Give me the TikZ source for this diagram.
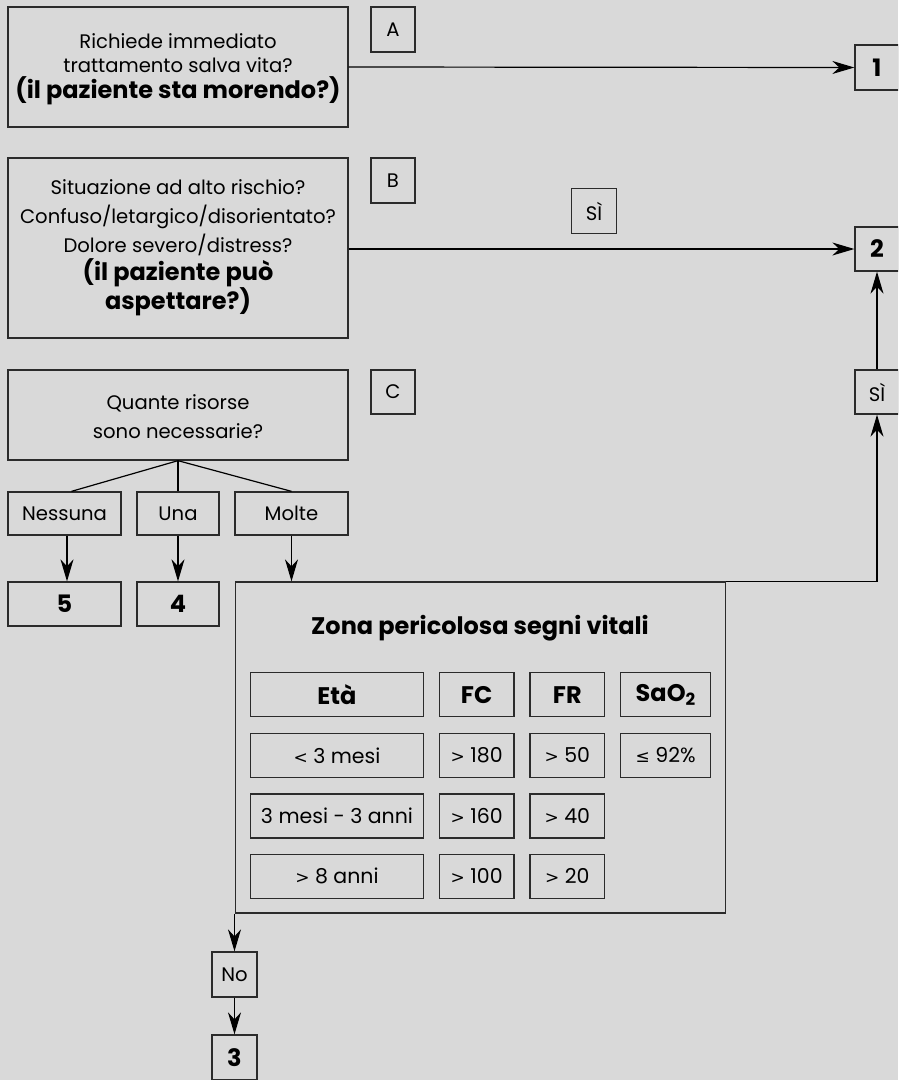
\documentclass[tikz,border=0pt]{standalone}
\usepackage{fontspec}
\setmainfont{Poppins}
\newfontfamily\dejavu{DejaVu Sans}
\usetikzlibrary{arrows.meta}
\definecolor{bgc}{HTML}{D9D9D9}
\definecolor{lc}{HTML}{2B2B2B}
\newcommand\bigb[1]{{\fontsize{24}{24.5}\selectfont\bfseries #1}}
\newcommand\bigbb[1]{{\fontsize{24}{28.7}\selectfont\bfseries #1}}
\newcommand\rel[1]{{\dejavu\fontsize{17}{17}\selectfont #1}}
\begin{document}
\lineskiplimit=-30pt
\begin{tikzpicture}[x=1pt,y=-1pt,
  box/.style={draw=lc, line width=1.3pt, rectangle, inner sep=0pt, align=center,
    font=\fontsize{19.6}{24.5}\selectfont},
  arr/.style={draw=black, line width=1.2pt, -{Stealth[length=22pt,width=13pt,inset=7pt]}},
  plain/.style={draw=black, line width=1.2pt},
  bb/.style={font=\fontsize{24}{24}\selectfont\bfseries},
  tb/.style={font=\fontsize{20.5}{24}\selectfont}
]
\useasboundingbox (0,0) rectangle (898,1080);
\fill[bgc] (0,0) rectangle (898,1080);
\clip (0,0) rectangle (898,1080);

% row A
\node[box, minimum width=340, minimum height=120] (A) at (178,67)
  {\rule{0pt}{19pt}Richiede immediato\\trattamento salva vita?\\[1pt]\bigb{(il paziente sta morendo?)}};
\node[box, minimum width=44, minimum height=45] (labA) at (393,29.5) {A};
\node[box, minimum width=44, minimum height=45, bb] (n1) at (877,67.5) {1};

% row B
\node[box, minimum width=340, minimum height=180, font=\fontsize{19.6}{28.7}\selectfont] (B) at (178,248)
  {Situazione ad alto rischio?\\Confuso/letargico/disorientato?\\Dolore severo/distress?\\\bigbb{(il paziente può}\\\bigbb{aspettare?)}};
\node[box, minimum width=44, minimum height=45] (labB) at (393,180.5) {B};
\node[box, minimum width=45, minimum height=45] (si1) at (594,211) {SÌ};
\node[box, minimum width=44, minimum height=44, bb] (n2) at (877,249) {2};

% row C
\node[box, minimum width=340, minimum height=90, font=\fontsize{19.6}{29}\selectfont] (C) at (178,415)
  {\rule{0pt}{19pt}Quante risorse\\sono necessarie?};
\node[box, minimum width=44, minimum height=44] (labC) at (393,392) {C};
\node[box, minimum width=44, minimum height=44] (si2) at (877,392) {SÌ};

\node[box, minimum width=113, minimum height=43] (nes) at (64.5,513.5) {Nessuna};
\node[box, minimum width=82, minimum height=43] (una) at (178,513.5) {Una};
\node[box, minimum width=113, minimum height=43] (mol) at (291.5,513.5) {Molte};

\node[box, minimum width=113, minimum height=44, bb] (n5) at (64.5,604) {5};
\node[box, minimum width=82, minimum height=44, bb] (n4) at (178,604) {4};

% big vital signs box
\node[box, minimum width=490, minimum height=331] (big) at (480.5,747.5) {};
\node[bb, inner sep=0pt] (title) at (480,628) {Zona pericolosa segni vitali};

\node[box, minimum width=172.6, minimum height=44, bb] (h1) at (337,694.7) {Età};
\node[box, minimum width=74.7, minimum height=44, bb] (h2) at (476.7,694.7) {FC};
\node[box, minimum width=74.7, minimum height=44, bb] (h3) at (567.3,694.7) {FR};
\node[box, minimum width=90, minimum height=44, bb] (h4) at (665.7,694.7) {SaO\textsubscript{2}};

\node[box, minimum width=172.6, minimum height=44, tb] (r1a) at (337,755.3) {\rel{<} 3 mesi};
\node[box, minimum width=74.7, minimum height=44, tb] (r1b) at (476.7,755.3) {\rel{>} 180};
\node[box, minimum width=74.7, minimum height=44, tb] (r1c) at (567.3,755.3) {\rel{>} 50};
\node[box, minimum width=90, minimum height=44, tb] (r1d) at (665.7,755.3) {\rel{≤} 92\%};

\node[box, minimum width=172.6, minimum height=44, tb] (r2a) at (337,816) {3 mesi - 3 anni};
\node[box, minimum width=74.7, minimum height=44, tb] (r2b) at (476.7,816) {\rel{>} 160};
\node[box, minimum width=74.7, minimum height=44, tb] (r2c) at (567.3,816) {\rel{>} 40};

\node[box, minimum width=172.6, minimum height=44, tb] (r3a) at (337,876.2) {\rel{>} 8 anni};
\node[box, minimum width=74.7, minimum height=44, tb] (r3b) at (476.7,876.2) {\rel{>} 100};
\node[box, minimum width=74.7, minimum height=44, tb] (r3c) at (567.3,876.2) {\rel{>} 20};

\node[box, minimum width=45, minimum height=45] (no) at (234.5,974.5) {No};
\node[box, minimum width=45, minimum height=45, bb] (n3) at (234.5,1057.5) {3};

% connectors
\draw[arr] (A.east) -- (n1.west);
\coordinate (bL) at (B.east |- n2.west);
\draw[arr] (bL) -- (n2.west);
\draw[arr] (si2.north) -- (n2.south);
\draw[arr] (big.north east) -| (si2.south);

\coordinate (cs) at (C.south);
\draw[plain] (cs) -- ([xshift=7pt]nes.north);
\draw[plain] (cs) -- (una.north);
\draw[plain] (cs) -- (mol.north);

\draw[arr] ([xshift=2.5pt]nes.south) -- ([xshift=2.5pt]n5.north);
\draw[arr] (una.south) -- (n4.north);
\draw[arr] (mol.south) -- (mol.south |- big.north);

\draw[arr] (no.north |- big.south) -- (no.north);
\draw[arr] (no.south) -- (n3.north);
\end{tikzpicture}
\end{document}
